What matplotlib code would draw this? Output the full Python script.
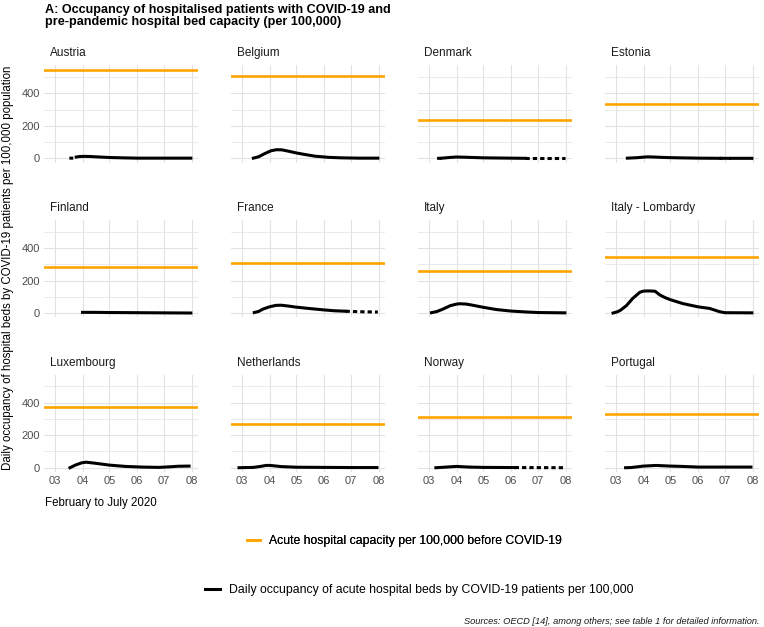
import pandas as pd
import matplotlib
matplotlib.use("Agg")
import matplotlib.pyplot as plt
from matplotlib.lines import Line2D

plt.rcParams['font.family'] = ['Liberation Sans Narrow', 'Liberation Sans', 'DejaVu Sans']

countries = ["Austria", "Belgium", "Denmark", "Estonia",
             "Finland", "France", "Italy", "Italy - Lombardy",
             "Luxembourg", "Netherlands", "Norway", "Portugal"]

# acute hospital beds per 100,000 before COVID-19
capacity = [545, 505, 235, 335, 282, 306, 260, 345, 372, 268, 313, 331]

# daily occupancy per 100,000 (None = no data)
austria = [("2020-03-19", 1), ("2020-03-20", 1), ("2020-03-22", None),
           ("2020-03-25", 8), ("2020-03-29", 11), ("2020-04-03", 12), ("2020-04-10", 11),
           ("2020-04-20", 8), ("2020-05-01", 5), ("2020-05-15", 3), ("2020-06-01", 1),
           ("2020-07-01", 1), ("2020-07-31", 1)]
belgium = [("2020-03-14", 1), ("2020-03-20", 10), ("2020-03-27", 30), ("2020-04-03", 47),
           ("2020-04-09", 53), ("2020-04-15", 52), ("2020-04-22", 44), ("2020-05-01", 33),
           ("2020-05-10", 24), ("2020-05-22", 13), ("2020-06-06", 6), ("2020-06-20", 3),
           ("2020-07-10", 1), ("2020-07-31", 1)]
denmark = [("2020-03-12", 0), ("2020-03-13", 0), ("2020-03-14", None),
           ("2020-03-16", 1), ("2020-03-24", 5), ("2020-04-01", 8), ("2020-04-08", 7),
           ("2020-04-20", 5), ("2020-05-01", 3), ("2020-05-15", 2), ("2020-06-01", 1),
           ("2020-06-17", 0), ("2020-07-31", 0)]
estonia = [("2020-03-14", 1), ("2020-03-25", 4), ("2020-04-05", 9), ("2020-04-12", 8),
           ("2020-04-25", 5), ("2020-05-10", 3), ("2020-06-01", 1), ("2020-06-25", 0),
           ("2020-06-26", None), ("2020-06-27", 0), ("2020-07-05", 0), ("2020-07-06", None),
           ("2020-07-08", 0), ("2020-07-31", 0)]
finland = [("2020-04-01", 4), ("2020-04-15", 4), ("2020-05-01", 3), ("2020-06-01", 2),
           ("2020-07-01", 1), ("2020-07-31", 0)]
france = [("2020-03-15", 3), ("2020-03-20", 10), ("2020-03-25", 25), ("2020-04-01", 38),
          ("2020-04-08", 47), ("2020-04-14", 48), ("2020-04-22", 43), ("2020-05-01", 36),
          ("2020-05-15", 28), ("2020-06-01", 19), ("2020-06-12", 14), ("2020-06-25", 11),
          ("2020-07-10", 8), ("2020-07-31", 6)]
italy = [("2020-03-04", 2), ("2020-03-10", 9), ("2020-03-16", 22), ("2020-03-25", 45),
         ("2020-04-01", 55), ("2020-04-05", 57), ("2020-04-12", 55), ("2020-04-20", 47),
         ("2020-05-01", 35), ("2020-05-16", 21), ("2020-06-01", 12), ("2020-06-19", 6),
         ("2020-07-01", 3), ("2020-07-31", 1)]
lombardy = [("2020-02-27", 0), ("2020-03-03", 8), ("2020-03-06", 16), ("2020-03-13", 46),
            ("2020-03-20", 90), ("2020-03-28", 128), ("2020-04-01", 135), ("2020-04-07", 136),
            ("2020-04-14", 134), ("2020-04-19", 112), ("2020-04-25", 95), ("2020-05-01", 82),
            ("2020-05-15", 58), ("2020-06-01", 38), ("2020-06-14", 28), ("2020-06-25", 8),
            ("2020-07-01", 2), ("2020-07-31", 1)]
luxembourg = [("2020-03-18", 0), ("2020-03-24", 16), ("2020-03-31", 30), ("2020-04-05", 34),
              ("2020-04-16", 27), ("2020-05-01", 16), ("2020-05-19", 8), ("2020-06-06", 4),
              ("2020-06-25", 2), ("2020-07-06", 5), ("2020-07-17", 9), ("2020-07-29", 10)]
netherlands = [("2020-02-27", 0), ("2020-03-14", 2), ("2020-03-22", 8), ("2020-03-28", 14),
               ("2020-04-02", 14), ("2020-04-14", 7), ("2020-05-01", 3), ("2020-06-01", 2),
               ("2020-07-02", 1), ("2020-07-03", None), ("2020-07-05", 1), ("2020-07-30", 1)]
norway = [("2020-03-09", 0), ("2020-03-21", 4), ("2020-04-01", 8), ("2020-04-15", 4),
          ("2020-05-01", 2), ("2020-06-05", 1), ("2020-07-31", 0)]
portugal = [("2020-03-12", 0), ("2020-03-18", 1), ("2020-04-01", 10), ("2020-04-15", 14),
            ("2020-05-01", 10), ("2020-05-14", 8), ("2020-06-01", 4), ("2020-07-01", 4),
            ("2020-07-30", 4)]

occupancy = [austria, belgium, denmark, estonia, finland, france,
             italy, lombardy, luxembourg, netherlands, norway, portugal]

# where the reported series turns into the dotted estimate
dashed_from = [None, None, "2020-06-17", None, None, "2020-06-25",
               None, None, None, None, "2020-06-05", None]

month_ticks = ["2020-03-01", "2020-04-01", "2020-05-01", "2020-06-01", "2020-07-01", "2020-08-01"]
month_labels = ["03", "04", "05", "06", "07", "08"]

W, H = 764, 627
fig = plt.figure(figsize=(W / 100, H / 100), dpi=100)

col_left = [44, 231, 418, 605]
row_top = [65.4, 220.1, 374.8]
pw, ph = 154, 97.3

orange = "#FFA500"
grid_col = "#e2e2e2"

for i, name in enumerate(countries):
    r, c = divmod(i, 4)
    ax = fig.add_axes([col_left[c] / W, 1 - (row_top[r] + ph) / H, pw / W, ph / H])
    ax.set_xlim(pd.Timestamp("2020-02-18"), pd.Timestamp("2020-08-08"))
    ax.set_ylim(-27, 572)
    ax.set_xticks(pd.to_datetime(month_ticks))
    ax.set_xticklabels(month_labels)
    ax.set_yticks([0, 200, 400])
    ax.set_yticks([100, 300, 500], minor=True)
    ax.grid(True, which="major", color=grid_col, lw=0.8)
    ax.grid(True, which="minor", axis="y", color=grid_col, lw=0.5)
    ax.set_axisbelow(True)
    for s in ax.spines.values():
        s.set_visible(False)
    ax.tick_params(which="both", length=0, labelsize=8, labelcolor="#4d4d4d", pad=3)
    ax.tick_params(axis="x", labelbottom=(r == 2))
    ax.tick_params(axis="y", labelleft=(c == 0))

    ax.axhline(capacity[i], color=orange, lw=1.9, zorder=2)

    df = pd.DataFrame(occupancy[i], columns=["date", "value"])
    df["date"] = pd.to_datetime(df["date"])
    df["value"] = pd.to_numeric(df["value"])
    if dashed_from[i] is None:
        ax.plot(df["date"], df["value"], color="black", lw=2.2, zorder=3)
    else:
        d = pd.Timestamp(dashed_from[i])
        solid = df[df["date"] <= d]
        dashed = df[df["date"] >= d]
        ax.plot(solid["date"], solid["value"], color="black", lw=2.2, zorder=3)
        ax.plot(dashed["date"], dashed["value"], color="black", lw=2.2, zorder=3,
                linestyle=(0, (1.4, 1.0)))

    ax.text(6 / pw, 1 + 12 / ph, name, transform=ax.transAxes, ha="left", va="center",
            fontsize=8.5, color="#1a1a1a")

fig.text(45 / W, 1 - 3.5 / H,
         "A: Occupancy of hospitalised patients with COVID-19 and\n"
         "pre-pandemic hospital bed capacity (per 100,000)",
         ha="left", va="top", fontsize=9.1, fontweight="bold", linespacing=1.1)

fig.text(8 / W, 1 - 268 / H,
         "Daily occupancy of hospital beds by COVID-19 patients per 100,000 population",
         rotation=90, ha="center", va="center", fontsize=8.3)

fig.text(45 / W, 1 - 503 / H, "February to July 2020", ha="left", va="center", fontsize=8.3)

leg1 = fig.legend(handles=[Line2D([], [], color=orange, lw=1.9)],
                  labels=["Acute hospital capacity per 100,000 before COVID-19"],
                  loc="center", bbox_to_anchor=(404 / W, 1 - 541 / H), frameon=False,
                  fontsize=8.8, handlelength=1.1, handletextpad=0.7)
leg2 = fig.legend(handles=[Line2D([], [], color="black", lw=2.2)],
                  labels=["Daily occupancy of acute hospital beds by COVID-19 patients per 100,000"],
                  loc="center", bbox_to_anchor=(419 / W, 1 - 590 / H), frameon=False,
                  fontsize=8.8, handlelength=1.3, handletextpad=0.7)
fig.add_artist(leg1)

fig.text(760 / W, 1 - 621 / H,
         "Sources: OECD [14], among others; see table 1 for detailed information.",
         ha="right", va="center", fontsize=6.7, style="italic", color="#1a1a1a")

fig.savefig("out.png", dpi=100)
